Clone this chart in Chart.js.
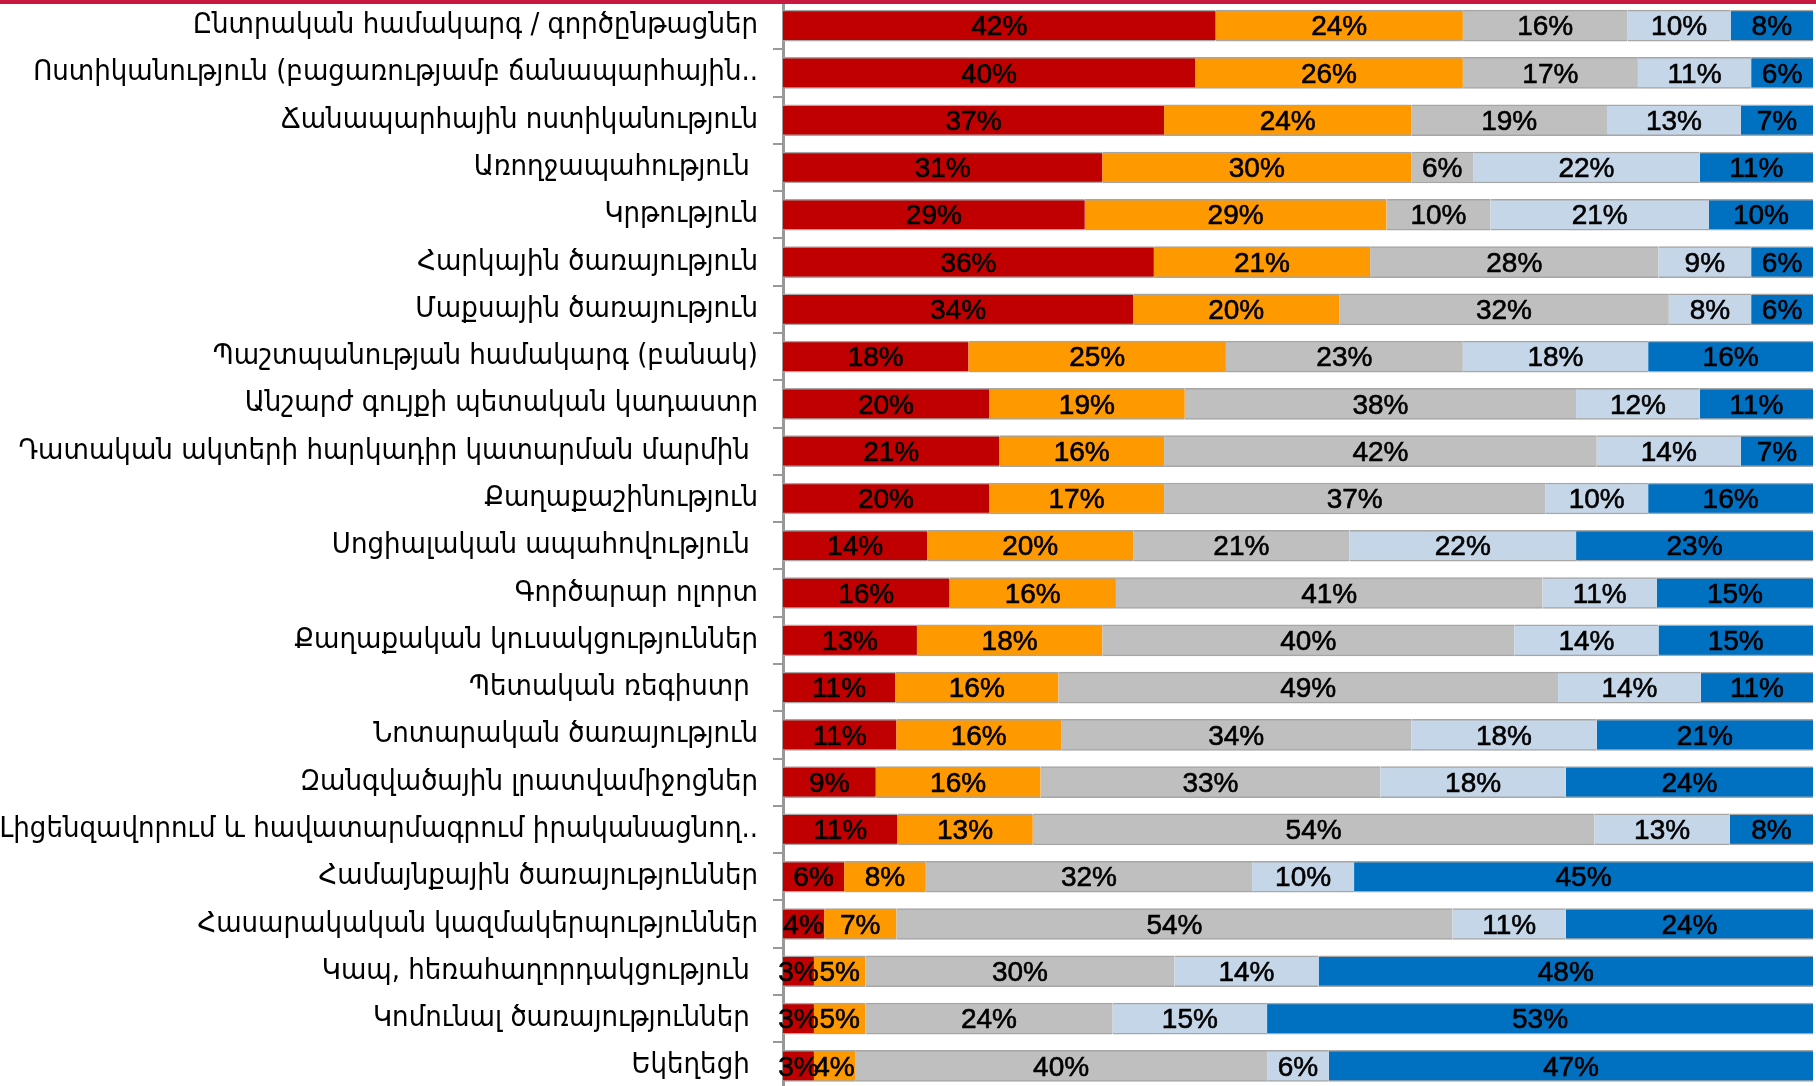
<!DOCTYPE html>
<html>
<head>
<meta charset="utf-8">
<script src="https://cdn.jsdelivr.net/npm/chart.js@4.4.1/dist/chart.umd.min.js"></script>
<style>
  html, body { margin: 0; padding: 0; background: #fff; overflow: hidden; }
  #topLine { position: absolute; left: 0; top: 0; width: 1816px; height: 4px; background: #c81840; z-index: 2; }
  #wrap { position: absolute; left: 0; top: 0; width: 1816px; height: 1092px; }
</style>
</head>
<body>
<div id="topLine"></div>
<div id="wrap"><canvas id="barChart"></canvas></div>
<script>
// categories, top to bottom (trailing spaces are in the source labels)
const categories = [
  "Ընտրական համակարգ / գործընթացներ",
  "Ոստիկանություն (բացառությամբ ճանապարհային..",
  "Ճանապարհային ոստիկանություն",
  "Առողջապահություն ",
  "Կրթություն",
  "Հարկային ծառայություն",
  "Մաքսային ծառայություն",
  "Պաշտպանության համակարգ (բանակ)",
  "Անշարժ գույքի պետական կադաստր",
  "Դատական ակտերի հարկադիր կատարման մարմին ",
  "Քաղաքաշինություն",
  "Սոցիալական ապահովություն ",
  "Գործարար ոլորտ",
  "Քաղաքական կուսակցություններ",
  "Պետական ռեգիստր ",
  "Նոտարական ծառայություն",
  "Զանգվածային լրատվամիջոցներ",
  "Լիցենզավորում և հավատարմագրում իրականացնող..",
  "Համայնքային ծառայություններ",
  "Հասարակական կազմակերպություններ",
  "Կապ, հեռահաղորդակցություն ",
  "Կոմունալ ծառայություններ ",
  "Եկեղեցի "
];

// answer shares in %, one array per segment (left to right)
const level1 = [42, 40, 37, 31, 29, 36, 34, 18, 20, 21, 20, 14, 16, 13, 11, 11, 9, 11, 6, 4, 3, 3, 3];
const level2 = [24, 26, 24, 30, 29, 21, 20, 25, 19, 16, 17, 20, 16, 18, 16, 16, 16, 13, 8, 7, 5, 5, 4];
const level3 = [16, 17, 19, 6, 10, 28, 32, 23, 38, 42, 37, 21, 41, 40, 49, 34, 33, 54, 32, 54, 30, 24, 40];
const level4 = [10, 11, 13, 22, 21, 9, 8, 18, 12, 14, 10, 22, 11, 14, 14, 18, 18, 13, 10, 11, 14, 15, 6];
const level5 = [8, 6, 7, 11, 10, 6, 6, 16, 11, 7, 16, 23, 15, 15, 11, 21, 24, 8, 45, 24, 48, 53, 47];

const seriesValues = [level1, level2, level3, level4, level5];
const seriesColors = ["#c00000", "#ff9900", "#bfbfbf", "#c4d6e8", "#0070c0"];

// 100% stacked: each row scaled to its own total
const rowTotals = categories.map((c, i) => seriesValues.reduce((s, arr) => s + arr[i], 0));

const datasets = seriesValues.map((vals, k) => ({
  label: "level" + (k + 1),
  raw: vals,
  data: vals.map((v, i) => v / rowTotals[i] * 100),
  backgroundColor: seriesColors[k],
  borderColor: "#a6a6a6",
  borderWidth: { top: 1.5, bottom: 1.5, left: 0, right: 0 },
  borderSkipped: false,
  barThickness: 31
}));

// draws the % text in the middle of every segment
const segmentLabels = {
  id: "segmentLabels",
  afterDatasetsDraw(chart) {
    const ctx = chart.ctx;
    ctx.save();
    ctx.font = '28px "Liberation Sans", Arial, sans-serif';
    ctx.fillStyle = "#000";
    ctx.strokeStyle = "#000";
    ctx.lineWidth = 0.6;
    ctx.textAlign = "center";
    ctx.textBaseline = "middle";
    chart.data.datasets.forEach((ds, i) => {
      chart.getDatasetMeta(i).data.forEach((bar, j) => {
        const x = (bar.x + bar.base) / 2;
        const txt = ds.raw[j] + "%";
        ctx.fillText(txt, x, bar.y + 2);
        ctx.strokeText(txt, x, bar.y + 2);
      });
    });
    ctx.restore();
  }
};

new Chart(document.getElementById("barChart"), {
  type: "bar",
  data: { labels: categories, datasets: datasets },
  options: {
    indexAxis: "y",
    responsive: true,
    maintainAspectRatio: false,
    animation: false,
    layout: { padding: { top: 2, bottom: 2.5, left: 0, right: 3 } },
    plugins: {
      legend: { display: false },
      tooltip: { enabled: false }
    },
    scales: {
      x: {
        stacked: true,
        display: false,
        min: 0,
        max: 100
      },
      y: {
        stacked: true,
        afterFit: (scale) => {
          scale.width = 783;
          // no extra room for the first / last label
          scale.paddingTop = 0;
          scale.paddingBottom = 0;
        },
        grid: {
          display: true,
          drawOnChartArea: false,
          drawTicks: true,
          tickLength: 10,
          color: "#999999",
          lineWidth: 2,
          offset: true
        },
        border: { display: true, color: "#999999", width: 3 },
        ticks: {
          color: "#000",
          padding: 15,
          font: { family: '"DejaVu Sans Condensed", "DejaVu Sans", sans-serif', size: 29 }
        }
      }
    }
  },
  plugins: [segmentLabels]
});
</script>
</body>
</html>
